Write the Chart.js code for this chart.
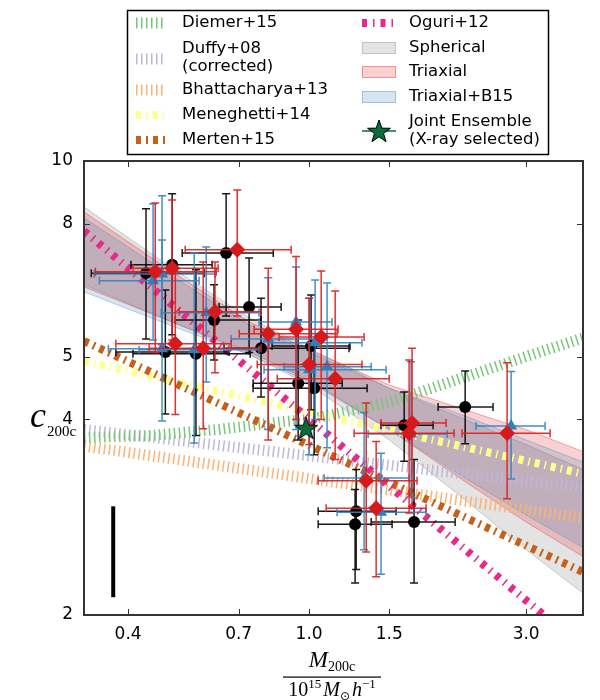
<!DOCTYPE html>
<html><head><meta charset="utf-8">
<script src="https://cdn.jsdelivr.net/npm/chart.js"></script>
<style>html,body{margin:0;padding:0;background:#fff}</style>
</head><body>
<canvas id="c" width="600" height="700"></canvas>
<script>
// ---------------- data ----------------
const xTicks = [0.4, 0.7, 1.0, 1.5, 3.0];
const yTicks = [2, 4, 5, 8, 10];

// fit bands (upper / lower edges)
const bandM = [0.32, 0.50, 0.74, 1.0, 1.5, 2.2, 3.0, 4.0];
const sphHi = [8.50, 6.84, 5.73, 5.15, 4.47, 4.00, 3.66, 3.35];
const sphLo = [6.45, 5.65, 5.03, 4.52, 3.72, 3.01, 2.52, 2.16];
const triHi = [8.35, 6.75, 5.65, 5.12, 4.52, 4.14, 3.86, 3.57];
const triLo = [6.40, 5.65, 5.08, 4.60, 3.86, 3.21, 2.78, 2.46];
const b15Hi = [8.17, 6.65, 5.59, 5.08, 4.47, 4.05, 3.72, 3.44];
const b15Lo = [6.29, 5.57, 5.03, 4.57, 3.86, 3.25, 2.85, 2.54];

// model relations
const diemerM = [0.32, 0.45, 0.63, 0.88, 1.0, 1.5, 2.2, 3.0, 4.0];
const diemerC = [3.75, 3.78, 3.86, 3.97, 4.00, 4.25, 4.65, 5.00, 5.34];
const duffyM = [0.32, 4.0];
const duffyC = [3.86, 3.14];
const bhattM = [0.32, 4.0];
const bhattC = [3.64, 2.82];
const menegM = [0.32, 4.0];
const menegC = [4.92, 3.30];
const mertenM = [0.32, 4.0];
const mertenC = [5.28, 2.33];
const oguriM = [0.32, 4.0];
const oguriC = [7.80, 1.78];

// spherical (black circles)
const sphM   = [0.438,0.500,0.657,0.738,0.618,0.784,1.010,0.483,0.564,0.946,1.026,1.269,1.262,1.701,1.618,2.203];
const sphC   = [6.72,6.92,7.22,5.96,5.69,5.15,5.19,5.08,5.05,4.55,4.47,2.89,2.76,2.78,3.92,4.18];
const sphMlo = [0.332,0.406,0.526,0.634,0.508,0.650,0.829,0.376,0.410,0.753,0.753,1.047,1.047,1.369,1.439,1.921];
const sphMhi = [0.588,0.612,0.834,0.868,0.784,1.224,1.230,0.667,0.742,1.182,1.341,1.553,1.522,2.094,1.873,2.537];
const sphClo = [5.32,5.40,5.77,5.07,4.94,4.33,4.14,4.08,3.78,3.72,3.53,2.35,2.24,2.24,3.45,3.67];
const sphChi = [8.44,8.90,8.90,7.09,6.45,6.15,6.22,6.33,6.80,5.69,5.30,3.35,3.12,3.47,4.41,4.75];

// triaxial + B15 (blue triangles)
const b15M   = [0.475,0.454,0.594,0.475,0.559,0.813,0.936,1.031,1.000,1.095,1.676,2.780,1.439,1.321];
const b15C   = [6.70,6.54,5.84,5.14,5.12,5.32,5.65,5.25,4.77,4.82,3.80,3.91,2.88,3.25];
const b15Mlo = [0.337,0.346,0.473,0.362,0.423,0.674,0.776,0.817,0.796,0.881,1.348,2.328,1.152,1.079];
const b15Mhi = [0.621,0.573,0.776,0.667,0.776,1.052,1.123,1.307,1.476,1.369,2.011,3.302,1.807,1.659];
const b15Clo = [5.21,5.30,4.57,3.98,3.68,3.86,3.86,4.00,3.53,3.62,3.04,3.24,2.31,2.52];
const b15Chi = [8.84,8.59,7.37,7.56,7.22,6.61,6.87,6.56,6.15,6.49,4.91,4.74,3.55,4.10];

// triaxial (red diamonds)
const triM   = [0.459,0.500,0.695,0.621,0.508,0.585,0.813,0.936,1.063,1.000,1.141,1.684,1.659,2.724,1.335,1.404];
const triC   = [6.75,6.84,7.30,5.86,5.23,5.15,5.42,5.51,5.36,4.86,4.62,3.95,3.81,3.81,3.22,2.92];
const triMlo = [0.339,0.410,0.534,0.518,0.376,0.445,0.702,0.757,0.859,0.769,0.851,1.439,1.256,2.169,1.047,1.090];
const triMhi = [0.625,0.631,0.913,0.784,0.674,0.784,1.152,1.158,1.321,1.307,1.500,2.000,2.083,3.386,1.727,1.807];
const triClo = [5.07,5.30,5.77,4.72,4.07,3.87,3.72,4.00,4.00,3.66,3.47,2.94,2.87,3.02,2.50,2.29];
const triChi = [8.62,8.71,9.02,6.99,6.84,6.99,6.84,7.13,6.77,6.15,6.31,5.15,4.94,4.89,4.24,3.70];

// joint ensemble and scale bar
const jointM = [0.985];
const jointC = [3.88];
const barM = [0.371, 0.371];
const barC = [2.13, 2.94];

// ---------------- styles ----------------
const ST = {
  diemer: {color:'rgba(120,198,121,1)', width:11, dash:[1.5,3.5]},
  duffy:  {color:'rgba(190,182,218,1)', width:11, dash:[1.5,3.5]},
  bhatt:  {color:'rgba(253,178,115,1)', width:11, dash:[1.5,3.5]},
  meneg:  {color:'#ffff8a', width:8, dash:[5,5,1.5,5]},
  merten: {color:'#c4601a', width:8, dash:[5,5,2,5]},
  oguri:  {color:'#e7298a', width:8, dash:[5,6,1.5,6]}
};
const BAND = {
  sph: {fill:'rgba(128,128,128,0.22)', edge:'rgba(128,128,128,0.35)'},
  tri: {fill:'rgba(228,26,28,0.2)', edge:'rgba(228,26,28,0.35)'},
  b15: {fill:'rgba(55,126,184,0.2)', edge:'rgba(55,126,184,0.35)'}
};
const RED = '#d7191c', BLUE = '#2f7fbd', STARG = '#0b6b3a';

const pts = (xs, ys) => xs.map((x, i) => ({x, y: ys[i]}));

function starCanvas(r) {
  const s = Math.ceil(2 * r + 4);
  const c = document.createElement('canvas'); c.width = s; c.height = s;
  const g = c.getContext('2d');
  g.beginPath();
  for (let k = 0; k < 10; k++) {
    const rr = k % 2 ? r * 0.40 : r;
    const a = -Math.PI / 2 + k * Math.PI / 5;
    g.lineTo(s / 2 + rr * Math.cos(a), s / 2 + 1 + rr * Math.sin(a));
  }
  g.closePath(); g.fillStyle = STARG; g.fill();
  g.strokeStyle = '#000'; g.lineWidth = 1; g.stroke();
  return c;
}
const STAR = starCanvas(12);

function modelDS(label, xs, ys, st, order) {
  return {label, data: pts(xs, ys), borderColor: st.color, borderWidth: st.width, borderDash: st.dash,
    borderCapStyle: 'butt', pointRadius: 0, fill: false, order, clip: 0, tension: 0};
}
function bandDS(label, ys, b, fill, order) {
  return {label, data: pts(bandM, ys), borderColor: b.edge, backgroundColor: b.fill, borderWidth: 1,
    pointRadius: 0, fill, order, clip: 0, tension: 0};
}
function ptDS(label, xs, ys, err, style, radius, color, order) {
  return {label, data: pts(xs, ys), showLine: false, pointStyle: style, pointRadius: radius,
    pointHoverRadius: radius, backgroundColor: color, borderColor: color, borderWidth: 0, order, clip: 0, err};
}

const datasets = [
  {label:'bar', data: pts(barM, barC), borderColor:'#000', borderWidth:4, pointRadius:0, fill:false, order:0, clip:0, borderCapStyle:'butt'},
  {label:'Joint Ensemble', data: pts(jointM, jointC), showLine:false, pointStyle: STAR, pointRadius: 12, order:1, clip:0},
  ptDS('Triaxial pts', triM, triC, {xlo:triMlo, xhi:triMhi, ylo:triClo, yhi:triChi, color:'rgba(222,30,32,0.92)'}, 'rectRot', 8, RED, 2),
  ptDS('Triaxial+B15 pts', b15M, b15C, {xlo:b15Mlo, xhi:b15Mhi, ylo:b15Clo, yhi:b15Chi, color:'rgba(52,132,194,0.92)'}, 'triangle', 7, BLUE, 3),
  ptDS('Spherical pts', sphM, sphC, {xlo:sphMlo, xhi:sphMhi, ylo:sphClo, yhi:sphChi, color:'rgba(0,0,0,0.9)'}, 'circle', 6, '#000', 4),
  modelDS('Oguri+12', oguriM, oguriC, ST.oguri, 5),
  modelDS('Merten+15', mertenM, mertenC, ST.merten, 6),
  modelDS('Meneghetti+14', menegM, menegC, ST.meneg, 7),
  modelDS('Diemer+15', diemerM, diemerC, ST.diemer, 8),
  modelDS('Duffy+08', duffyM, duffyC, ST.duffy, 9),
  modelDS('Bhattacharya+13', bhattM, bhattC, ST.bhatt, 10),
  bandDS('Triaxial+B15 hi', b15Hi, BAND.b15, '+1', 11),
  bandDS('Triaxial+B15 lo', b15Lo, BAND.b15, false, 11),
  bandDS('Triaxial hi', triHi, BAND.tri, '+1', 12),
  bandDS('Triaxial lo', triLo, BAND.tri, false, 12),
  bandDS('Spherical hi', sphHi, BAND.sph, '+1', 13),
  bandDS('Spherical lo', sphLo, BAND.sph, false, 13)
];

// ---------------- plugins ----------------
const errPlugin = {
  id: 'errbars',
  beforeDatasetDraw(chart, args) {
    const ds = chart.data.datasets[args.index];
    if (!ds.err) return;
    const {ctx, chartArea: a} = chart;
    const X = chart.scales.x, Y = chart.scales.y, e = ds.err, cap = 4;
    ctx.save();
    ctx.beginPath(); ctx.rect(a.left, a.top, a.right - a.left, a.bottom - a.top); ctx.clip();
    ctx.strokeStyle = e.color; ctx.lineWidth = 1.5; ctx.setLineDash([]);
    ds.data.forEach((p, i) => {
      const px = X.getPixelForValue(p.x), py = Y.getPixelForValue(p.y);
      const x0 = X.getPixelForValue(e.xlo[i]), x1 = X.getPixelForValue(e.xhi[i]);
      const y0 = Y.getPixelForValue(e.ylo[i]), y1 = Y.getPixelForValue(e.yhi[i]);
      ctx.beginPath();
      ctx.moveTo(x0, py); ctx.lineTo(x1, py);
      ctx.moveTo(px, y0); ctx.lineTo(px, y1);
      ctx.moveTo(x0, py - cap); ctx.lineTo(x0, py + cap);
      ctx.moveTo(x1, py - cap); ctx.lineTo(x1, py + cap);
      ctx.moveTo(px - cap, y0); ctx.lineTo(px + cap, y0);
      ctx.moveTo(px - cap, y1); ctx.lineTo(px + cap, y1);
      ctx.stroke();
    });
    ctx.restore();
  }
};

const framePlugin = {
  id: 'frame',
  afterDatasetsDraw(chart) {
    const {ctx, chartArea: a} = chart;
    const X = chart.scales.x, Y = chart.scales.y;
    ctx.save();
    ctx.strokeStyle = '#333'; ctx.lineWidth = 1; ctx.setLineDash([]);
    ctx.beginPath();
    xTicks.forEach(v => {
      const p = Math.round(X.getPixelForValue(v)) + 0.5;
      ctx.moveTo(p, a.bottom); ctx.lineTo(p, a.bottom - 6);
      ctx.moveTo(p, a.top); ctx.lineTo(p, a.top + 6);
    });
    yTicks.forEach(v => {
      const p = Math.round(Y.getPixelForValue(v)) + 0.5;
      ctx.moveTo(a.left, p); ctx.lineTo(a.left + 6, p);
      ctx.moveTo(a.right, p); ctx.lineTo(a.right - 6, p);
    });
    ctx.stroke();
    ctx.lineWidth = 2; ctx.strokeStyle = '#333';
    ctx.strokeRect(a.left, a.top, a.right - a.left, a.bottom - a.top);
    ctx.restore();
  }
};

function runs(ctx, items, x, y, center) {
  let w = 0;
  items.forEach(r => { ctx.font = r.f; r.w = ctx.measureText(r.t).width; w += r.w + (r.g || 0); });
  let cx = center ? x - w / 2 : x;
  ctx.textAlign = 'left'; ctx.textBaseline = 'alphabetic';
  items.forEach(r => { ctx.font = r.f; ctx.fillText(r.t, cx, y + (r.dy || 0)); cx += r.w + (r.g || 0); });
  return w;
}

const textPlugin = {
  id: 'texts',
  afterDraw(chart) {
    const ctx = chart.ctx;
    ctx.save();
    ctx.fillStyle = '#000';
    // ----- axis titles -----
    const SER = '"Liberation Serif", "DejaVu Serif", serif';
    runs(ctx, [{t:'c', f:'italic 36px ' + SER, g:1}, {t:'200c', f:'15px ' + SER, dy: 9}], 30, 427, false);
    runs(ctx, [{t:'M', f:'italic 23px ' + SER}, {t:'200c', f:'14px ' + SER, dy: 4}], 332, 667, true);
    ctx.fillRect(283, 676.5, 98, 1.2);
    runs(ctx, [
      {t:'10', f:'20px ' + SER}, {t:'15', f:'13px ' + SER, dy:-8, g:2},
      {t:'M', f:'italic 20px ' + SER}, {t:'\u2299', f:'12px "DejaVu Sans"', dy:4, g:2},
      {t:'h', f:'italic 20px ' + SER}, {t:'\u22121', f:'13px ' + SER, dy:-8}
    ], 332, 696, true);

    // ----- legend -----
    ctx.fillStyle = '#fff'; ctx.fillRect(127, 10, 422, 145);
    ctx.strokeStyle = '#000'; ctx.lineWidth = 1.5; ctx.setLineDash([]);
    ctx.strokeRect(127.5, 10.5, 421, 144);
    const line = (st, x0, x1, y) => {
      ctx.save(); ctx.strokeStyle = st.color; ctx.lineWidth = st.width; ctx.lineCap = 'butt';
      ctx.setLineDash(st.dash); ctx.beginPath(); ctx.moveTo(x0, y); ctx.lineTo(x1, y); ctx.stroke(); ctx.restore();
    };
    const rect = (b, y) => {
      ctx.save(); ctx.fillStyle = '#fff'; ctx.fillRect(362, y - 6, 34, 12);
      ctx.fillStyle = b.fill; ctx.fillRect(362, y - 6, 34, 12);
      ctx.strokeStyle = b.edge; ctx.lineWidth = 1; ctx.strokeRect(362.5, y - 5.5, 33, 11); ctx.restore();
    };
    line(ST.diemer, 136, 165, 23);
    line(ST.duffy, 136, 165, 59);
    line(ST.bhatt, 136, 165, 90);
    line(ST.meneg, 136, 165, 115);
    line(ST.merten, 136, 165, 140);
    line(ST.oguri, 362, 396, 23);
    rect(BAND.sph, 48);
    rect(BAND.tri, 72);
    rect(BAND.b15, 97);
    ctx.save(); ctx.strokeStyle = STARG; ctx.lineWidth = 1.5; ctx.beginPath();
    ctx.moveTo(362, 131); ctx.lineTo(396, 131); ctx.stroke(); ctx.restore();
    ctx.drawImage(STAR, 379 - STAR.width / 2, 131 - STAR.height / 2);

    ctx.fillStyle = '#000'; ctx.font = '16.5px "DejaVu Sans"';
    ctx.textAlign = 'left'; ctx.textBaseline = 'middle';
    const L = [['Diemer+15', 23], ['Duffy+08', 49], ['(corrected)', 67], ['Bhattacharya+13', 90],
               ['Meneghetti+14', 115], ['Merten+15', 140]];
    const R = [['Oguri+12', 23], ['Spherical', 48], ['Triaxial', 72], ['Triaxial+B15', 97],
               ['Joint Ensemble', 122], ['(X-ray selected)', 140]];
    L.forEach(([t, y]) => ctx.fillText(t, 182, y));
    R.forEach(([t, y]) => ctx.fillText(t, 409, y));
    ctx.restore();
  }
};

new Chart(document.getElementById('c'), {
  type: 'line',
  data: {datasets},
  options: {
    responsive: false, animation: false, devicePixelRatio: 1,
    layout: {padding: {top: 161, right: 17, left: 0, bottom: 0}},
    plugins: {legend: {display: false}, tooltip: {enabled: false}},
    scales: {
      x: {
        type: 'logarithmic', min: 0.32, max: 4.0, bounds: 'data', position: 'bottom',
        grid: {display: false, drawTicks: false}, border: {display: false},
        afterBuildTicks: s => { s.ticks = xTicks.map(v => ({value: v})); },
        afterFit: s => { s.height = 85; },
        ticks: {autoSkip: false, maxRotation: 0, padding: 9, color: '#000',
          font: {family: 'DejaVu Sans', size: 17}, callback: v => Number(v).toFixed(1)}
      },
      y: {
        type: 'logarithmic', min: 2, max: 10, bounds: 'data', position: 'left',
        grid: {display: false, drawTicks: false}, border: {display: false},
        afterBuildTicks: s => { s.ticks = yTicks.map(v => ({value: v})); },
        afterFit: s => { s.width = 84; },
        ticks: {autoSkip: false, padding: 11, color: '#000',
          font: {family: 'DejaVu Sans', size: 17}, callback: v => String(v)}
      }
    }
  },
  plugins: [errPlugin, framePlugin, textPlugin]
});
</script>
</body></html>
